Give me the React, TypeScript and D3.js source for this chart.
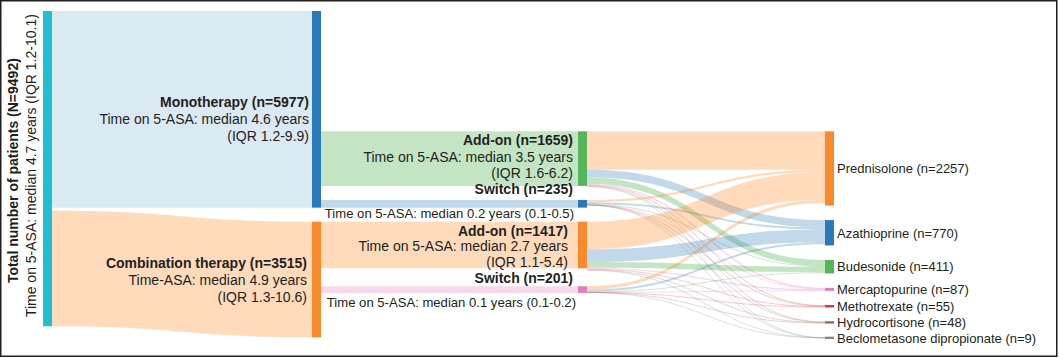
import React from "react";
import * as d3 from "d3";

// ---------------- DATA ----------------
const nodeNames = [
  "Total",
  "Monotherapy",
  "Combination therapy",
  "Add-on (mono)",
  "Switch (mono)",
  "Add-on (combo)",
  "Switch (combo)",
  "Prednisolone",
  "Azathioprine",
  "Budesonide",
  "Mercaptopurine",
  "Methotrexate",
  "Hydrocortisone",
  "Beclometasone dipropionate",
];
const nodeValues = [9492, 5977, 3515, 1659, 235, 1417, 201, 2257, 770, 411, 87, 55, 48, 9];
const nodeColumn = [0, 1, 1, 2, 2, 2, 2, 3, 3, 3, 3, 3, 3, 3];

const linkSource = [
  0, 0, 1, 1, 2, 2,
  3, 3, 3, 3, 3, 3, 3,
  4, 4, 4, 4, 4, 4, 4,
  5, 5, 5, 5, 5, 5, 5,
  6, 6, 6, 6, 6, 6, 6,
];
const linkTarget = [
  1, 2, 3, 4, 5, 6,
  7, 8, 9, 10, 11, 12, 13,
  7, 8, 9, 10, 11, 12, 13,
  7, 8, 9, 10, 11, 12, 13,
  7, 8, 9, 10, 11, 12, 13,
];
const linkValue = [
  5977, 3515, 1659, 235, 1417, 201,
  1170, 230, 190, 40, 25, 22, 4,
  70, 55, 20, 5, 3, 3, 1,
  840, 390, 170, 35, 22, 18, 3,
  100, 60, 20, 5, 3, 3, 1,
];

const leftTitle = "Total number of patients (N=9492)";
const leftSubtitle = "Time on 5-ASA: median 4.7 years (IQR 1.2-10.1)";
const nodeLabelLines: string[][] = [
  [],
  ["Monotherapy (n=5977)", "Time on 5-ASA: median 4.6 years", "(IQR 1.2-9.9)"],
  ["Combination therapy (n=3515)", "Time-ASA: median 4.9 years", "(IQR 1.3-10.6)"],
  ["Add-on (n=1659)", "Time on 5-ASA: median 3.5 years", "(IQR 1.6-6.2)"],
  ["Switch (n=235)"],
  ["Add-on (n=1417)", "Time on 5-ASA: median 2.7 years", "(IQR 1.1-5.4)"],
  ["Switch (n=201)"],
  ["Prednisolone (n=2257)"],
  ["Azathioprine (n=770)"],
  ["Budesonide (n=411)"],
  ["Mercaptopurine (n=87)"],
  ["Methotrexate (n=55)"],
  ["Hydrocortisone (n=48)"],
  ["Beclometasone dipropionate (n=9)"],
];
const switchNotes = [
  "Time on 5-ASA: median 0.2 years (0.1-0.5)",
  "Time on 5-ASA: median 0.1 years (0.1-0.2)",
];

// ---------------- STYLE / LAYOUT ----------------
const W = 1059;
const H = 358;
const FONT = "'Liberation Sans', Arial, Helvetica, sans-serif";
const TEXT = "#231f20";
const FS = 14;
const FS_NOTE = 13.1;
const FS_RIGHT = 13;
const nodeColors = [
  "#22bdd0", "#2a7ab9", "#f68a2c", "#58b45a", "#2a7ab9", "#f68a2c", "#df7ebe",
  "#f68a2c", "#2a7ab9", "#58b45a", "#df7ebe", "#dc3232", "#9a6a5d", "#8a8a8a",
];
const linkBase = [
  "#17becf", "#1f77b4", "#ff7f0e", "#2ca02c", "#1f77b4", "#ff7f0e", "#e377c2",
  "#ff7f0e", "#1f77b4", "#2ca02c", "#e377c2", "#d62728", "#8c564b", "#7f7f7f",
];
const colX = [43, 312, 578, 825];
const nodeW = 9;
const top = 11;
const pad = 14;

const labelLayout: Record<number, { dx: number; dy: number; lh: number }> = {
  1: { dx: -3, dy: -2, lh: 17 },
  2: { dx: -5, dy: -11, lh: 17 },
  3: { dx: -5, dy: -13.6, lh: 16.5 },
  4: { dx: -5, dy: -9.7, lh: 16 },
  5: { dx: -10, dy: -9, lh: 15.5 },
  6: { dx: -5, dy: -6.5, lh: 16 },
};
const noteLayout = [
  { node: 4, dx: -4, dy: 14.3 },
  { node: 6, dx: -2, dy: 17.5 },
];

type N = { i: number; x0: number; x1: number; y0: number; y1: number; h: number; outOff: number; inOff: number };

function layout() {
  const k = d3.scaleLinear().domain([0, 9492]).range([0, 9492 * 0.0329]);
  const nodes: N[] = nodeValues.map((v, i) => ({
    i,
    x0: colX[nodeColumn[i]],
    x1: colX[nodeColumn[i]] + nodeW,
    y0: 0,
    y1: 0,
    h: k(v),
    outOff: 0,
    inOff: 0,
  }));
  const set = (n: N, y0: number) => {
    n.y0 = y0;
    n.y1 = y0 + n.h;
  };
  nodes[0].h += 3;
  set(nodes[0], top);
  set(nodes[1], top);
  set(nodes[2], nodes[1].y1 + pad);
  set(nodes[4], nodes[1].y1 - nodes[4].h);
  set(nodes[3], nodes[4].y0 - pad - nodes[3].h);
  set(nodes[5], nodes[2].y0);
  set(nodes[6], nodes[5].y1 + 18);
  let y = nodes[3].y0;
  for (let i = 7; i < nodes.length; i++) {
    set(nodes[i], y);
    y = nodes[i].y1 + 14.5;
  }
  nodes.forEach((n) => {
    n.outOff = n.y0;
    n.inOff = n.y0;
  });

  const links = linkValue.map((v, j) => {
    const s = nodes[linkSource[j]];
    const t = nodes[linkTarget[j]];
    const w = k(v);
    let sy0: number;
    if (nodeColumn[s.i] === 1) {
      sy0 = t.y0;
    } else {
      sy0 = s.outOff;
      s.outOff += w + (s.i === 0 ? 3 : 0);
    }
    const ty0 = t.inOff;
    t.inOff += w;
    return { j, s, t, w, sy0, ty0, v };
  });
  return { nodes, links };
}

function bandPath(x0: number, x1: number, sy0: number, ty0: number, w: number) {
  const xm = x0 + (x1 - x0) * 0.5;
  const p = d3.path();
  p.moveTo(x0, sy0);
  p.bezierCurveTo(xm, sy0, xm, ty0, x1, ty0);
  p.lineTo(x1, ty0 + w);
  p.bezierCurveTo(xm, ty0 + w, xm, sy0 + w, x0, sy0 + w);
  p.closePath();
  return p.toString();
}

export default function App() {
  const { nodes, links } = layout();
  const c0 = (nodes[0].y0 + nodes[0].y1) / 2;
  const lk = d3.linkHorizontal<any, [number, number]>().x((d) => d[0]).y((d) => d[1]);
  return (
    <svg
      width={W}
      height={H}
      viewBox={`0 0 ${W} ${H}`}
      style={{ position: "absolute", left: 0, top: 0, background: "#fff" }}
      fontFamily={FONT}
    >
      <rect x={0} y={0} width={W} height={H} fill="#fff" />
      <g>
        {links.map((l) => {
          const thin = l.w < 1.6;
          const op = l.j === 0 ? 0.16 : thin ? 0.3 : 0.28;
          const col = d3.color(linkBase[l.t.i])!.copy({ opacity: op }).toString();
          if (thin) {
            const d = lk({ source: [l.s.x1, l.sy0 + l.w / 2], target: [l.t.x0, l.ty0 + l.w / 2] } as any) as string;
            return <path key={l.j} d={d} fill="none" stroke={col} strokeWidth={Math.max(l.w, 0.8)} />;
          }
          return <path key={l.j} d={bandPath(l.s.x1, l.t.x0, l.sy0, l.ty0, l.w)} fill={col} stroke="none" />;
        })}
      </g>
      <g>
        {nodes.map((n) => {
          const h = Math.max(n.h, 2.4);
          const yc = (n.y0 + n.y1) / 2;
          return <rect key={n.i} x={n.x0} y={yc - h / 2} width={nodeW} height={h} fill={nodeColors[n.i]} />;
        })}
      </g>
      <text
        transform={`translate(17.5,${c0 + 2}) rotate(-90)`}
        textAnchor="middle"
        fontSize={FS}
        fontWeight="bold"
        fill={TEXT}
      >
        {leftTitle}
      </text>
      <text transform={`translate(35.5,${c0 - 3}) rotate(-90)`} textAnchor="middle" fontSize={FS} fill={TEXT}>
        {leftSubtitle}
      </text>
      {nodes
        .filter((n) => labelLayout[n.i])
        .map((n) => {
          const L = labelLayout[n.i];
          const yc = (n.y0 + n.y1) / 2;
          return (
            <text key={n.i} textAnchor="end" fontSize={FS} fill={TEXT}>
              {nodeLabelLines[n.i].map((s, li) => (
                <tspan key={li} x={n.x0 + L.dx} y={yc + L.dy + li * L.lh} fontWeight={li === 0 ? "bold" : "normal"}>
                  {s}
                </tspan>
              ))}
            </text>
          );
        })}
      {noteLayout.map((nl, i) => {
        const n = nodes[nl.node];
        const yc = (n.y0 + n.y1) / 2;
        return (
          <text key={i} x={n.x0 + nl.dx} y={yc + nl.dy} textAnchor="end" fontSize={FS_NOTE} fill={TEXT}>
            {switchNotes[i]}
          </text>
        );
      })}
      {nodes
        .filter((n) => nodeColumn[n.i] === 3)
        .map((n) => (
          <text key={n.i} x={n.x1 + 3} y={(n.y0 + n.y1) / 2 + 4.8} fontSize={FS_RIGHT} fill={TEXT}>
            {nodeLabelLines[n.i][0]}
          </text>
        ))}
      <rect x={0.75} y={0.75} width={1056} height={355.5} fill="none" stroke="#231f20" strokeWidth={1.5} />
    </svg>
  );
}
